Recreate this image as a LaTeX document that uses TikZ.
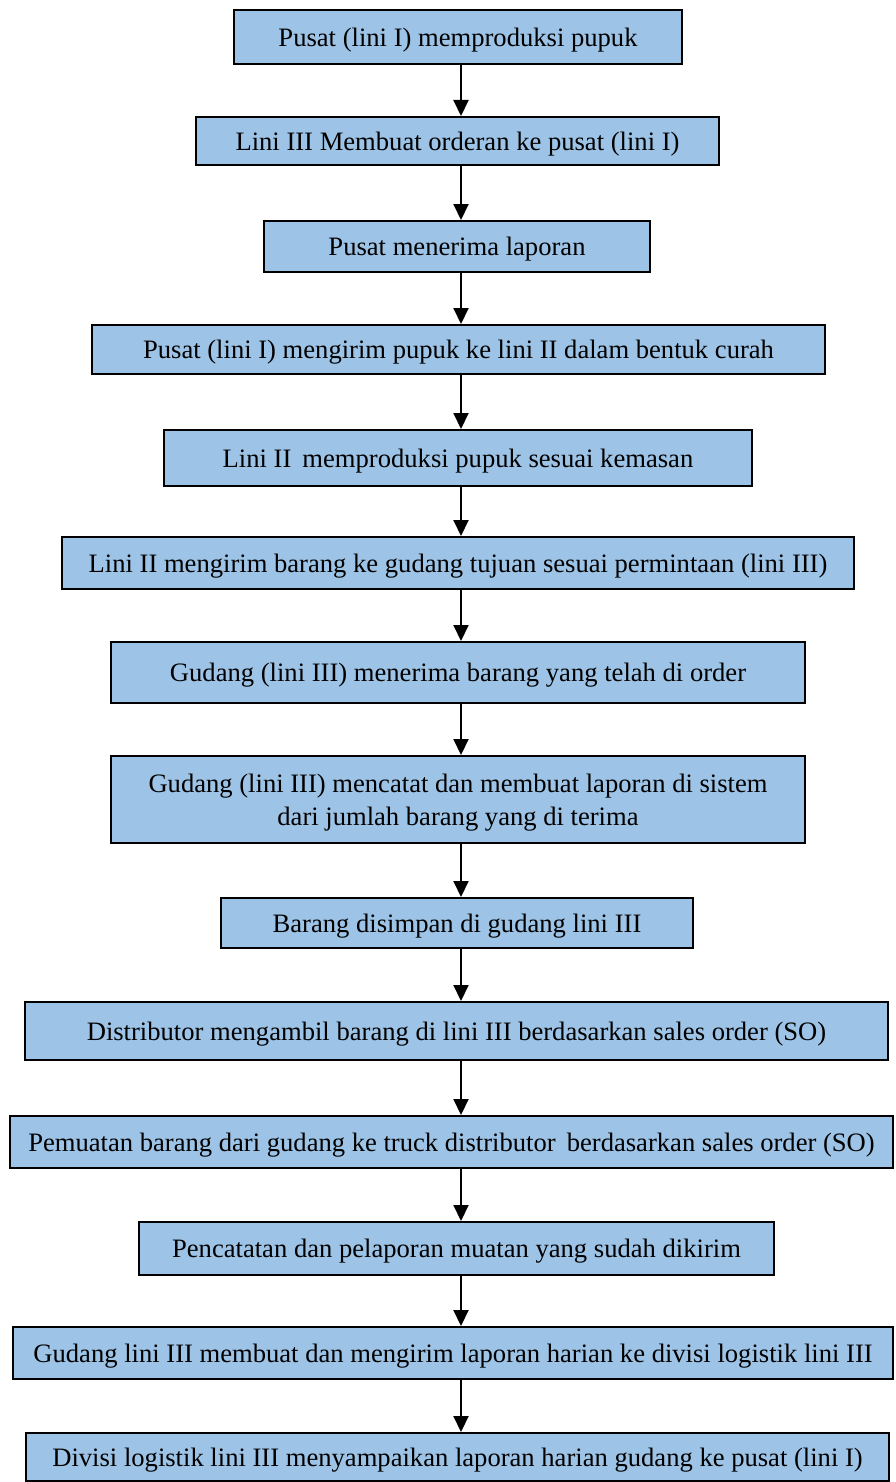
\documentclass[tikz,border=0pt]{standalone}
\usepackage{fontspec}
\setmainfont{Liberation Serif}
\usetikzlibrary{arrows.meta}
\definecolor{boxblue}{HTML}{9DC3E6}
\begin{document}
\begin{tikzpicture}[x=1pt, y=-1pt,
  box/.style={draw=black, line width=2pt, fill=boxblue, inner sep=0pt, align=center,
    text depth=0pt, font=\fontsize{26.6}{33}\selectfont},
  flow/.style={line width=2pt, -{Triangle[width=15pt,length=16pt]}}]
\useasboundingbox (0,0) rectangle (895,1482);
% process steps
\node[box, minimum width=448, minimum height=54] (pusat) at (458,37) {Pusat (lini I) memproduksi pupuk};
\node[box, minimum width=523, minimum height=48] (order) at (457.5,141) {Lini III Membuat orderan ke pusat (lini I)};
\node[box, minimum width=386, minimum height=51] (terima) at (457,246.5) {Pusat menerima laporan};
\node[box, minimum width=733, minimum height=49] (kirim) at (458.5,349.5) {Pusat (lini I) mengirim pupuk ke lini II dalam bentuk curah};
\node[box, minimum width=588, minimum height=56] (kemas) at (458,458) {Lini II\, memproduksi pupuk sesuai kemasan};
\node[box, minimum width=792, minimum height=52] (gudang) at (458,563) {Lini II mengirim barang ke gudang tujuan sesuai permintaan (lini III)};
\node[box, minimum width=694, minimum height=61] (masuk) at (458,672.5) {Gudang (lini III) menerima barang yang telah di order};
\node[box, minimum width=694, minimum height=87] (catat) at (458,799.5) {Gudang (lini III) mencatat dan membuat laporan di sistem\\dari jumlah barang yang di terima};
\node[box, minimum width=472, minimum height=50] (simpan) at (457,923) {Barang disimpan di gudang lini III};
\node[box, minimum width=863, minimum height=58] (ambil) at (456.5,1031) {Distributor mengambil barang di lini III berdasarkan sales order (SO)};
\node[box, minimum width=883, minimum height=52] (muat) at (451.5,1142) {Pemuatan barang dari gudang ke truck distributor\, berdasarkan sales order (SO)};
\node[box, minimum width=635, minimum height=53] (lapor) at (456.5,1248.5) {Pencatatan dan pelaporan muatan yang sudah dikirim};
\node[box, minimum width=880, minimum height=52] (harian) at (453,1353) {Gudang lini III membuat dan mengirim laporan harian ke divisi logistik lini III};
\node[box, minimum width=863, minimum height=48] (divisi) at (457.5,1457) {Divisi logistik lini III menyampaikan laporan harian gudang ke pusat (lini I)};
% arrows
\coordinate (ax) at (461,0);
\foreach \a/\b in {pusat/order, order/terima, terima/kirim, kirim/kemas, kemas/gudang,
  gudang/masuk, masuk/catat, catat/simpan, simpan/ambil, ambil/muat, muat/lapor,
  lapor/harian, harian/divisi}
  \draw[flow] (\a.south -| ax) -- (\b.north -| ax);
\end{tikzpicture}
\end{document}
